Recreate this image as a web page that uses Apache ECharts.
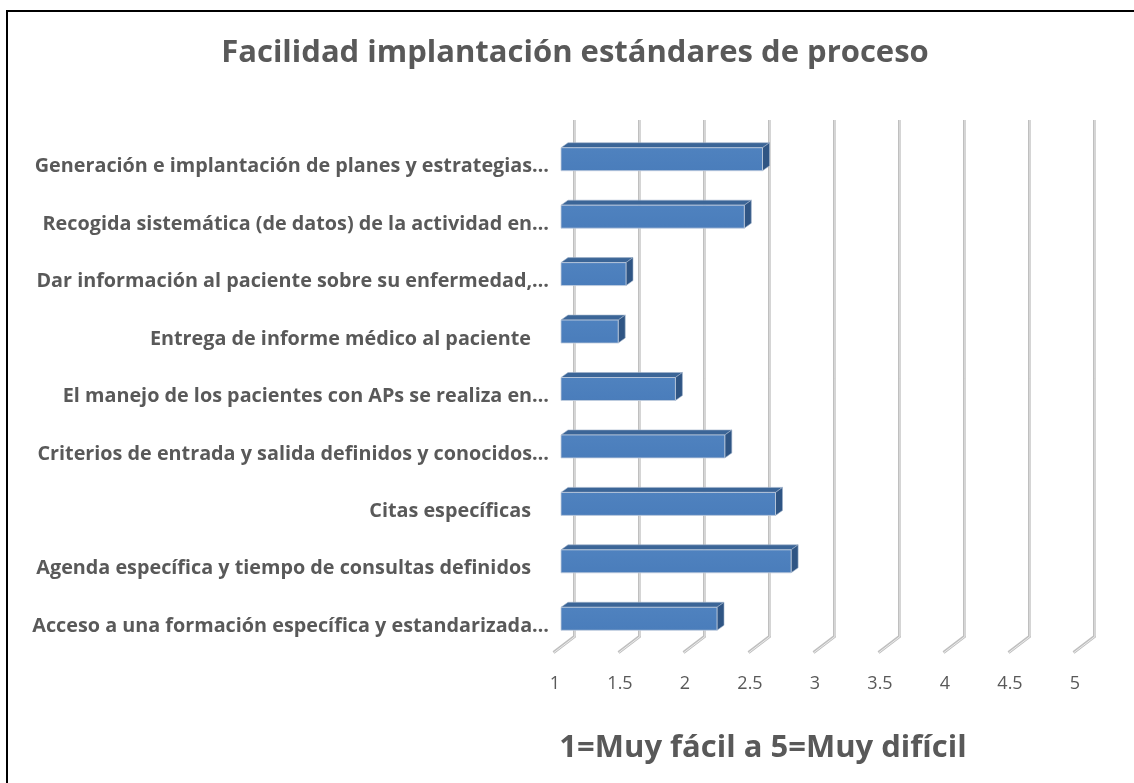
<!DOCTYPE html>
<html>
<head>
<meta charset="utf-8">
<script src="https://cdn.jsdelivr.net/npm/echarts@6/dist/echarts.min.js"></script>
<style>
  html, body { margin: 0; padding: 0; background: #fff; }
  #chart { width: 1134px; height: 783px; }
</style>
</head>
<body>
<div id="chart"></div>
<script>
// Facilidad implantacion - 3D horizontal bars

const categories = [
    'Generación e implantación de planes y estrategias…',
    'Recogida sistemática (de datos) de la actividad en…',
    'Dar información al paciente sobre su enfermedad,…',
    'Entrega de informe médico al paciente ',
    'El manejo de los pacientes con APs se realiza en…',
    'Criterios de entrada y salida definidos y conocidos…',
    'Citas específicas ',
    'Agenda específica y tiempo de consultas definidos ',
    'Acceso a una formación específica y estandarizada…'
];
const values = [2.55, 2.41, 1.5, 1.44, 1.88, 2.26, 2.65, 2.77, 2.2];
const ticks = [1, 1.5, 2, 2.5, 3, 3.5, 4, 4.5, 5];

const FONT = '"Open Sans"';
const TEXT = '#595959';

let chartDom = document.getElementById('chart');
let chart = echarts.init(chartDom);

// back wall + floor lines for each tick
function renderGrid(params, api) {
    let cs = params.coordSys;
    let x = api.coord([api.value(0), 0])[0];
    let top = cs.y - 10.5;
    let backBottom = cs.y + cs.height - 11;
    let frontBottom = cs.y + cs.height + 5;
    let bx = x + 13.5, fx = x - 7.5;
    let pts = [[bx, top], [bx, backBottom], [fx, frontBottom]];
    return {
        type: 'group',
        children: [
            { type: 'polyline', shape: { points: pts }, style: { stroke: '#bfbfbf', lineWidth: 3, fill: null } },
            { type: 'polyline', shape: { points: pts.map(p => [p[0] + 0.5, p[1]]) }, style: { stroke: '#ececec', lineWidth: 1, fill: null } }
        ]
    };
}

function renderBar(params, api) {
    let idx = api.value(1);
    let start = api.coord([1, idx]);
    let end = api.coord([api.value(0), idx]);
    let h = api.size([0, 1])[1] * 0.4;
    let dx = 7, dy = -5;
    let x0 = start[0], x1 = end[0];
    let y0 = start[1] - h / 2, y1 = start[1] + h / 2;
    return {
        type: 'group',
        children: [
            {
                type: 'polygon',
                shape: { points: [[x0, y0], [x0 + dx, y0 + dy], [x1 + dx, y0 + dy], [x1, y0]] },
                style: { fill: '#3b6597', stroke: '#9fb1c9', lineWidth: 0.6 }
            },
            {
                type: 'polygon',
                shape: { points: [[x1, y0], [x1 + dx, y0 + dy], [x1 + dx, y1 + dy], [x1, y1]] },
                style: { fill: '#2f5584', stroke: '#9fb1c9', lineWidth: 0.6 }
            },
            {
                type: 'rect',
                shape: { x: x0, y: y0, width: x1 - x0, height: h },
                style: {
                    fill: new echarts.graphic.LinearGradient(0, 0, 0, 1, [
                        { offset: 0, color: '#4f82bf' },
                        { offset: 1, color: '#4a7dbb' }
                    ]),
                    stroke: '#c3cede', lineWidth: 0.8
                }
            }
        ]
    };
}

let option = {
    backgroundColor: '#ffffff',
    animation: false,
    title: [
        {
            text: 'Facilidad implantación estándares de proceso',
            left: 570, top: 33, textAlign: 'center',
            textStyle: { fontFamily: FONT, fontWeight: 'bold', fontSize: 31, color: TEXT }
        },
        {
            text: '1=Muy fácil a 5=Muy difícil',
            left: 758, top: 728, textAlign: 'center',
            textStyle: { fontFamily: FONT, fontWeight: 'bold', fontSize: 31, color: TEXT }
        }
    ],
    graphic: [{
        type: 'polyline',
        shape: { points: [[7, 783], [7, 11], [1134, 11]] },
        style: { stroke: '#000', lineWidth: 2, fill: null }
    }],
    grid: { left: 561, width: 520, top: 130.5, height: 517 },
    xAxis: {
        type: 'value', min: 1, max: 5, interval: 0.5,
        axisLine: { show: false }, axisTick: { show: false }, splitLine: { show: false },
        axisLabel: {
            margin: 27, padding: [0, 12, 0, 0],
            fontFamily: FONT, fontSize: 18, color: TEXT
        }
    },
    yAxis: {
        type: 'category', inverse: true, data: categories,
        axisLine: { show: false }, axisTick: { show: false }, splitLine: { show: false },
        axisLabel: {
            margin: 12, padding: [15, 0, 0, 0],
            fontFamily: FONT, fontWeight: 'bold', fontSize: 19.8, color: TEXT,
            formatter: v => v.endsWith(' ') ? '{pad|' + v.trim() + '}' : v,
            rich: {
                pad: { padding: [0, 18, 0, 0], fontFamily: FONT, fontWeight: 'bold', fontSize: 19.8, color: TEXT }
            }
        }
    },
    series: [
        {
            type: 'custom', z: 1, silent: true,
            renderItem: renderGrid,
            encode: { x: 0, y: 1 },
            data: ticks.map(t => [t, 0])
        },
        {
            type: 'custom', z: 5,
            renderItem: renderBar,
            encode: { x: 0, y: 1 },
            data: values.map((v, i) => [v, i])
        }
    ]
};

chart.setOption(option);
window.onresize = function() {
    chart.resize();
};
</script>
</body>
</html>
